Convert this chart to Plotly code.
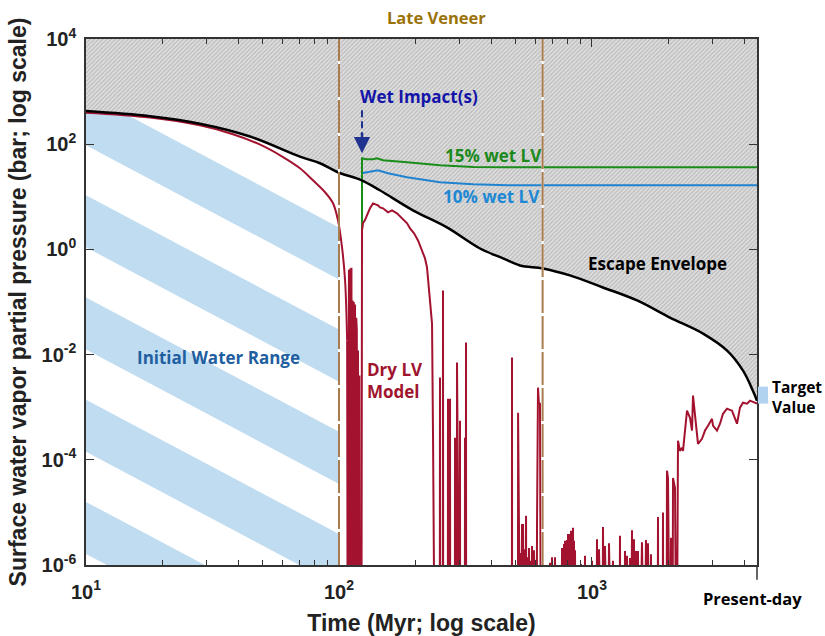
import numpy as np
import plotly.graph_objects as go

F = 1e-9  # pressure effectively zero (below the 1e-6 axis floor)

# ---------------- data ----------------
env_t = [10, 17.9, 28.2, 44.5, 70.1, 84.1, 99, 123, 145, 196, 267, 361, 445, 519, 640,
         818, 1104, 1507, 2032, 2748, 3420, 3954, 4325, 4490]
env_p = [426, 340, 245, 140, 58, 43.5, 29.3, 20.6, 13.3, 5.53, 2.62, 1.04, 0.675, 0.495, 0.435,
         0.32, 0.189, 0.107, 0.0507, 0.0251, 0.0119, 0.00495, 0.00206, 0.00133]

dry_early_t = [10, 17.9, 28.2, 38.1, 48.8, 60.1, 70.1, 78.9, 88.1, 94.7, 99.1, 102.8, 105.7, 107.7]
dry_early_p = [398, 322, 228, 155, 98, 57, 34.9, 20.6, 12.2, 7.52, 3.56, 1.09, 0.257, 0.0185]

dry_late = [
    (107.7, 0.0185), (108.3, F), (109.5, 0.41), (110.2, F), (110.8, 0.435), (111.5, 0.05), (112.0, 0.45),
    (112.6, F), (113.2, 0.107), (113.8, 0.02), (114.4, 0.10), (115.0, F), (115.7, 0.09), (116.4, F),
    (117.0, 0.05), (117.6, 0.03), (118.2, F), (118.9, 0.012), (119.4, F), (120.4, 0.004), (120.9, F),
    (122.6, F), (122.9, 0.166), (123.3, 2.30), (124.4, 3.13), (126.7, 3.6), (129.0, 4.45), (132.6, 6.04),
    (136.3, 7.5), (142.6, 6.9), (145.3, 6.3), (149.3, 6.04), (156.2, 5.07), (162.0, 5.53), (169.5, 4.85),
    (177.5, 3.89), (185.8, 3.13), (190.9, 2.51), (198.0, 2.02), (205.3, 1.48), (212.9, 0.957),
    (218.8, 0.674), (222.8, 0.454), (229.0, 0.107), (233.2, 0.0389), (235.4, 2.3e-4), (239.7, F),
    (250.2, F), (250.7, 0.00365), (251.2, F), (257.2, F), (257.7, 0.166), (258.2, F),
    (269.2, F), (269.7, 0.00145), (270.2, F), (274.2, F), (274.7, 0.00145), (275.2, F),
    (287.0, F), (287.4, 2.62e-4), (287.9, F), (292.2, F), (292.7, 0.00705), (294.0, 6.3e-4), (294.8, F),
    (300.3, F), (300.8, 5.5e-4), (301.3, F), (314.3, F), (314.8, 2.62e-4), (315.3, F),
    (317.2, F), (317.7, 0.0169), (318.2, F),
    (482.4, F), (482.9, 0.00877), (483.4, F), (509.8, F), (510.3, 7.85e-4), (510.8, F),
    (522.0, F), (524.3, 1.7e-6), (526.0, F), (529.0, 6.0e-6), (531.0, F), (533.9, 6.0e-6), (536.0, F),
    (541.0, 2.0e-6), (544.0, F), (548.7, 8.6e-6), (551.0, F), (553.7, 1.4e-6), (558.0, F),
    (563.7, 2.1e-6), (567.0, F), (570.0, 1.2e-6), (574.0, F), (579.3, 2.3e-6), (583.0, F),
    (589.8, 1.9e-6), (593.0, F), (604.0, F), (606.3, 5.3e-6), (611.8, 0.00235), (616.5, 0.00122),
    (623.0, 0.00117), (628.7, F),
    (680.0, F), (682.3, 1.1e-6), (688.0, F), (695.1, 1.4e-6), (702.0, F), (714.3, 1.4e-6), (722.0, F),
    (755.0, F), (761.3, 2.1e-6), (768.0, F), (775.2, 2.5e-6), (778.5, F), (782.3, 2.9e-6), (789.0, F),
    (796.7, 3.0e-6), (800.0, F), (804.0, 3.9e-6), (807.5, F), (811.3, 3.9e-6), (818.0, F),
    (826.2, 4.5e-6), (833.0, F), (841.3, 5.1e-6), (845.0, F), (849.0, 2.9e-6), (852.5, F),
    (856.8, 1.9e-6), (864.6, F),
    (900, F), (904.7, 1.04e-6), (909, F), (933, F), (938.2, 1.5e-6), (943, F), (995, F), (1000, 1.2e-6),
    (1005, F), (1040, F), (1046.6, 3.1e-6), (1056, F), (1065.9, 2.0e-6), (1075, F), (1100, F),
    (1105.3, 5.3e-6), (1115, F), (1125.6, 2.3e-6), (1135, F), (1160, F), (1167.3, 2.6e-6), (1175, F),
    (1205, F), (1210.6, 1.2e-6), (1216, F), (1283, F), (1290.3, 3.6e-6), (1297, F), (1343, F),
    (1350.3, 1.85e-6), (1362, F), (1375, 1.5e-6), (1390, F), (1413.3, 1.36e-6), (1425, F),
    (1439.3, 4.6e-6), (1452, F), (1465.6, 3.1e-6), (1478, F), (1492.6, 1.85e-6), (1505, F),
    (1520.0, 1.85e-6), (1535, F), (1576.3, 2.7e-6), (1590, F), (1610, F), (1634.7, 3.0e-6), (1650, F),
    (1664.7, 2.6e-6), (1690, F), (1710.9, 1.6e-6), (1720, F), (1815, F), (1823.6, 8.2e-6), (1830, F),
    (1900, F), (1908.3, 1.0e-5), (1915, F), (1970, F), (1979.0, 6.2e-5), (1997.3, 4.5e-5), (2010, F),
    (2040, F), (2052.7, 3.3e-6), (2065, F), (2080, F), (2090.4, 4.5e-5), (2128.7, 2.9e-5), (2160, F),
    (2167.7, F), (2187.6, 2.3e-4), (2227.7, 1.48e-4), (2268.7, 1.69e-4), (2289.6, 1.48e-4),
    (2374.6, 8.6e-4), (2440.5, 6.3e-4), (2485.2, 3.6e-4), (2507.9, 1.66e-3), (2553.9, 7.5e-4),
    (2624.5, 2.0e-4), (2721.8, 2.5e-4), (2797.1, 3.6e-4), (2874.6, 4.45e-4), (2981.1, 6.0e-4),
    (3008.4, 4.45e-4), (3119.9, 3.6e-4), (3206.5, 4.85e-4), (3295.0, 7.5e-4), (3417.1, 9.35e-4),
    (3576.3, 8.6e-4), (3742.3, 4.85e-4), (3845.9, 9.8e-4), (3952.1, 1.22e-3), (4099.4, 1.17e-3),
    (4213.2, 1.33e-3), (4409.7, 1.22e-3), (4490.5, 1.17e-3),
]
dry_late_t = [a for a, b in dry_late]
dry_late_p = [b for a, b in dry_late]

wet15_t = [123.3, 123.3, 128.0, 136.3, 141.3, 149.3, 185.8, 250.7, 338.6, 461.5, 1000, 4490]
wet15_p = [2.30, 54.1, 52.0, 51.8, 54.1, 49.5, 45.4, 39.8, 37.0, 36.5, 36.5, 36.5]

wet10_t = [123.3, 123.3, 129.0, 142.6, 156.2, 185.8, 250.7, 338.6, 461.5, 1000, 4490]
wet10_p = [2.30, 28.1, 29.3, 32.0, 28.1, 23.5, 18.9, 17.3, 16.6, 16.6, 16.6]

late_veneer_t = [100, 638]
wet_impact_t = 123.3
initial_range_t = [10, 100]
target_p = [0.00117, 0.00246]
t_present = 4490
p_top = 1e4

x_tickvals = [10, 100, 1000]
x_ticktext = ["<b>10<sup>1</sup></b>", "<b>10<sup>2</sup></b>", "<b>10<sup>3</sup></b>"]
x_minor = [20, 30, 40, 50, 60, 70, 80, 90, 200, 300, 400, 500, 600, 700, 800, 900, 2000, 3000, 4000]
y_tickvals = [1e-6, 1e-4, 1e-2, 1, 1e2, 1e4]
y_ticktext = ["<b>10<sup>-6</sup></b>", "<b>10<sup>-4</sup></b>", "<b>10<sup>-2</sup></b>",
              "<b>10<sup>0</sup></b>", "<b>10<sup>2</sup></b>", "<b>10<sup>4</sup></b>"]

# stripe styling (decorative pattern for the initial water range)
STRIPE_SLOPE = 2.554   # decades of y per decade of x
STRIPE_PERIOD = 1.943
STRIPE_WIDTH = 0.99
STRIPE_PHASE = 1.029

RED = "#A3132F"
BLACK = "#000000"
GREEN = "#1A8C1A"
BLUE = "#1F83D0"
BROWN = "#A87B4F"
STRIPE = "#C0DCF1"

fig = go.Figure()

# initial water range stripes
lx0, lx1 = np.log10(initial_range_t[0]), np.log10(initial_range_t[1])
drop = STRIPE_SLOPE * (lx1 - lx0)
for k in range(-3, 3):
    T = STRIPE_PHASE + k * STRIPE_PERIOD
    ys = 10 ** np.array([T, T - drop, T - drop - STRIPE_WIDTH, T - STRIPE_WIDTH, T])
    fig.add_trace(go.Scatter(x=[initial_range_t[0], initial_range_t[1], initial_range_t[1],
                                initial_range_t[0], initial_range_t[0]], y=ys,
                             fill="toself", fillcolor=STRIPE, mode="lines", line=dict(width=0),
                             hoverinfo="skip", showlegend=False))

# white between dry curve and envelope (covers stripes)
n_cov = sum(1 for t in env_t if t <= 123)
fig.add_trace(go.Scatter(x=env_t[:n_cov], y=env_p[:n_cov], mode="lines", line=dict(width=0, shape="spline"),
                         hoverinfo="skip", showlegend=False))
fig.add_trace(go.Scatter(x=dry_early_t, y=dry_early_p, mode="lines", line=dict(width=0, shape="spline"),
                         fill="tonexty", fillcolor="white", hoverinfo="skip", showlegend=False))

# hatched escape region
fig.add_trace(go.Scatter(x=[env_t[0], env_t[-1]], y=[p_top, p_top], mode="lines", line=dict(width=0),
                         hoverinfo="skip", showlegend=False))
fig.add_trace(go.Scatter(x=env_t, y=env_p, mode="lines", line=dict(width=0, shape="spline"),
                         fill="tonexty", fillcolor="#e2e2e2",
                         fillpattern=dict(shape="/", bgcolor="#e0e0e0", fgcolor="#bdbdbd",
                                          size=3, solidity=0.45, fillmode="replace"),
                         hoverinfo="skip", showlegend=False))

# wet LV curves
fig.add_trace(go.Scatter(x=wet10_t, y=wet10_p, mode="lines", line=dict(color=BLUE, width=2),
                         hoverinfo="skip", showlegend=False))
fig.add_trace(go.Scatter(x=wet15_t, y=wet15_p, mode="lines", line=dict(color=GREEN, width=2),
                         hoverinfo="skip", showlegend=False))

# dry LV model
fig.add_trace(go.Scatter(x=dry_early_t, y=dry_early_p, mode="lines",
                         line=dict(color=RED, width=2, shape="spline"), hoverinfo="skip", showlegend=False))
fig.add_trace(go.Scatter(x=dry_late_t, y=dry_late_p, mode="lines",
                         line=dict(color=RED, width=2), hoverinfo="skip", showlegend=False))

# escape envelope
fig.add_trace(go.Scatter(x=env_t, y=env_p, mode="lines", line=dict(color=BLACK, width=2.5, shape="spline"),
                         hoverinfo="skip", showlegend=False))

shapes = []
for t in late_veneer_t:
    shapes.append(dict(type="line", xref="x", yref="paper", x0=t, x1=t, y0=0, y1=1,
                       line=dict(color="white", width=2)))
    shapes.append(dict(type="line", xref="x", yref="paper", x0=t, x1=t, y0=0, y1=1,
                       line=dict(color=BROWN, width=2, dash="33px,3px")))
# wet impact dashed shaft
shapes.append(dict(type="line", xref="x", yref="y", x0=wet_impact_t, x1=wet_impact_t, y0=440, y1=150,
                   line=dict(color="#1F3290", width=2, dash="7px,4px")))
# target value box
shapes.append(dict(type="rect", xref="paper", yref="y", x0=1.0015, x1=1.0164,
                   y0=target_p[0], y1=target_p[1], fillcolor="#B2D3F0", line=dict(width=0)))
# present-day marker below axis
shapes.append(dict(type="line", xref="paper", yref="paper", x0=1, x1=1, y0=0, y1=-0.028,
                   line=dict(color="#333", width=1.5)))

AF = "Open Sans"
def ann(text, x, y, color, xanchor="center", align="center", size=17):
    return dict(text="<b>" + text.replace("<br>", "</b><br><b>") + "</b>", x=x, y=y,
                xref="paper", yref="paper", showarrow=False,
                xanchor=xanchor, yanchor="middle", align=align,
                font=dict(family=AF, size=size, color=color))

annotations = [
    ann("Late Veneer", 0.523, 1.040, "#9A7206", size=16.5),
    ann("Wet Impact(s)", 0.496, 0.890, "#1414A8"),
    ann("15% wet LV", 0.608, 0.779, "#1B8A1B"),
    ann("10% wet LV", 0.604, 0.700, "#1E88D4"),
    ann("Escape Envelope", 0.851, 0.574, "#000000"),
    ann("Initial Water Range", 0.198, 0.394, "#1F5F9F"),
    ann("Dry LV<br>Model", 0.416, 0.350, "#A0142E", xanchor="left", align="left"),
    ann("Target<br>Value", 1.019, 0.320, "#000000", xanchor="left", align="left", size=15.5),
    ann("Present-day", 0.994, -0.063, "#000000", size=16.5),
    dict(x=np.log10(wet_impact_t), y=np.log10(67.4), xref="x", yref="y", text="", showarrow=True,
         ax=0, ay=-22, arrowhead=2, arrowsize=1.3, arrowwidth=2.5, arrowcolor="#1F3290"),
]

TF = "Liberation Sans, Arial, sans-serif"
axis_common = dict(type="log", showgrid=False, zeroline=False, showline=True, linecolor="#333",
                   linewidth=1.5, mirror="ticks", ticks="inside", ticklen=8, tickwidth=1.2,
                   tickcolor="#333", tickfont=dict(family=TF, size=20, color="#222"), automargin=False)

fig.update_layout(
    width=825, height=636, margin=dict(l=86, r=68, t=39, b=71, autoexpand=False),
    plot_bgcolor="white", paper_bgcolor="white",
    xaxis=dict(**axis_common, range=[1, np.log10(t_present)], tickvals=x_tickvals, ticktext=x_ticktext,
               minor=dict(tickvals=x_minor, ticks="inside", ticklen=5, tickcolor="#333", tickwidth=1.2,
                          showgrid=False),
               ticklabelstandoff=8,
               title=dict(text="<b>Time (Myr; log scale)</b>", standoff=15,
                          font=dict(family=TF, size=23, color="#222"))),
    yaxis=dict(**axis_common, range=[-6, 4], tickvals=y_tickvals, ticktext=y_ticktext,
               ticklabelstandoff=4,
               title=dict(text="<b>Surface water vapor partial pressure (bar; log scale)</b>", standoff=8,
                          font=dict(family=TF, size=23, color="#222"))),
    shapes=shapes, annotations=annotations, showlegend=False,
)

fig.write_html("out.html")
